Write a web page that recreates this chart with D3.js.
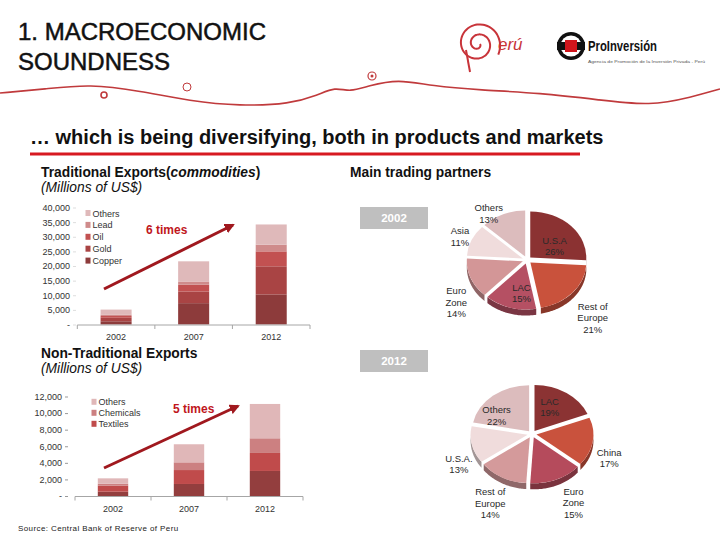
<!DOCTYPE html>
<html><head><meta charset="utf-8">
<script src="https://cdn.jsdelivr.net/npm/d3@7"></script>
<style>body{margin:0;background:#fff} svg{display:block;font-family:Arial,"Liberation Sans",sans-serif}</style>
</head><body><svg id="c" width="720" height="540"></svg>
<script>
// ---------- DATA ----------
const years = ["2002", "2007", "2012"];

const tradNames = ["Copper", "Gold", "Oil", "Lead", "Others"];
const tradCopper = [1100, 7300, 10300];
const tradGold   = [1200, 4000, 9600];
const tradOil    = [600, 2300, 5100];
const tradLead   = [500, 1100, 2300];
const tradOthers = [1700, 6900, 6900];
const tradTicks  = [0, 5000, 10000, 15000, 20000, 25000, 30000, 35000, 40000];

const ntNames     = ["Agro", "Textiles", "Chemicals", "Others"];
const ntAgro      = [520, 1450, 3020];
const ntTextiles  = [720, 1680, 2170];
const ntChemicals = [240, 930, 1770];
const ntOthers    = [650, 2180, 4140];
const ntTicks     = [0, 2000, 4000, 6000, 8000, 10000, 12000];
const ntLegend    = ["Others", "Chemicals", "Textiles"];

const partners2002 = ["U.S.A", "Rest of Europe", "LAC", "Euro Zone", "Asia", "Others"];
const shares2002   = [26, 21, 15, 14, 11, 13];
const partners2012 = ["LAC", "China", "Euro Zone", "Rest of Europe", "U.S.A.", "Others"];
const shares2012   = [19, 17, 15, 14, 13, 22];

// ---------- STYLE ----------
const tradColors = ["#8d3b3b", "#a94444", "#c25151", "#cf8b8b", "#dfb9ba"];
const ntColors   = ["#933e3e", "#c04b4b", "#cc8081", "#e0b7b8"];
const pieColors2002 = ["#8b3232", "#c9523c", "#b55063", "#d39697", "#f0dcdc", "#dcbcbd"];
const pieColors2012 = ["#8b3333", "#c9523d", "#b54b5c", "#d49a9b", "#f0dcdc", "#dcbcbd"];
// label placement: [angle (deg, clockwise from top), radius factor]
const lab2002 = [[58, 0.58], [137, 1.72], [188, 0.72], [234, 1.56], [293, 1.3], [326, 1.22]];
const lab2012 = [[28, 0.66], [111, 1.45], [154, 1.66], [206, 1.67], [243, 1.44], [303, 0.74]];

const svg = d3.select("#c");
svg.append("rect").attr("width", 720).attr("height", 540).attr("fill", "#fff");

// ---------- HEADER ----------
svg.append("text").attr("x", 18).attr("y", 40).attr("font-size", 24).attr("fill", "#111")
  .attr("stroke", "#111").attr("stroke-width", 0.5).text("1. MACROECONOMIC");
svg.append("text").attr("x", 18).attr("y", 70).attr("font-size", 24).attr("fill", "#111")
  .attr("stroke", "#111").attr("stroke-width", 0.5).text("SOUNDNESS");

const wavePts = [[0,93],[45,89],[90,84],[140,91],[190,101],[240,106],[290,104],[318,95],[335,87],[350,92],[368,86],[398,79],[432,86],[480,90],[540,93],[600,100],[650,106],[692,97],[720,89]];
svg.append("path").attr("d", d3.line().curve(d3.curveBasis)(wavePts))
  .attr("fill", "none").attr("stroke", "#c03a3c").attr("stroke-width", 1.6);
svg.append("circle").attr("cx", 104).attr("cy", 95).attr("r", 3).attr("fill", "none").attr("stroke", "#c03a3c").attr("stroke-width", 1.6);
svg.append("circle").attr("cx", 187).attr("cy", 87).attr("r", 4).attr("fill", "none").attr("stroke", "#c03a3c").attr("stroke-width", 1);
svg.append("circle").attr("cx", 372).attr("cy", 76).attr("r", 4).attr("fill", "none").attr("stroke", "#c03a3c").attr("stroke-width", 1.2);
svg.append("circle").attr("cx", 372).attr("cy", 76).attr("r", 1.5).attr("fill", "#c03a3c");

// Peru logo (decorative)
const spiral = [];
for (let t = 0; t <= 4.2 * Math.PI; t += 0.15) { const r = 2 + t * 1.6; spiral.push([478 + r * Math.cos(t), 44 + r * Math.sin(t)]); }
svg.append("path").attr("d", d3.line().curve(d3.curveBasis)(spiral)).attr("fill", "none").attr("stroke", "#c8343a").attr("stroke-width", 2);
svg.append("path").attr("d", "M466,50 L470,72").attr("stroke", "#c8343a").attr("stroke-width", 2);
svg.append("text").attr("x", 498).attr("y", 50).attr("font-size", 17).attr("font-style", "italic").attr("fill", "#c8343a").text("erú");
// ProInversion logo
svg.append("circle").attr("cx", 571).attr("cy", 46).attr("r", 14).attr("fill", "#111");
svg.append("circle").attr("cx", 571).attr("cy", 46).attr("r", 10.5).attr("fill", "#fff");
svg.append("rect").attr("x", 557).attr("y", 42).attr("width", 28).attr("height", 8).attr("fill", "#111");
svg.append("rect").attr("x", 565).attr("y", 40).attr("width", 12).attr("height", 12).attr("fill", "#d0151c");
svg.append("text").attr("x", 588).attr("y", 51).attr("font-size", 15).attr("font-weight", "bold")
  .attr("textLength", 69).attr("lengthAdjust", "spacingAndGlyphs").attr("fill", "#111").text("ProInversión");
svg.append("text").attr("x", 588).attr("y", 63).attr("font-size", 4).attr("fill", "#555")
  .attr("textLength", 117).attr("lengthAdjust", "spacingAndGlyphs").text("Agencia de Promoción de la Inversión Privada - Perú");

// Subtitle
svg.append("text").attr("x", 30).attr("y", 144).attr("font-size", 20).attr("font-weight", "bold").attr("fill", "#111")
  .text("… which is being diversifying, both in products and markets");
svg.append("line").attr("x1", 30).attr("x2", 580).attr("y1", 154).attr("y2", 154).attr("stroke", "#d71a21").attr("stroke-width", 3);

// Section titles
const t1 = svg.append("text").attr("x", 41).attr("y", 177).attr("font-size", 13.8).attr("font-weight", "bold").attr("fill", "#111");
t1.append("tspan").text("Traditional Exports(");
t1.append("tspan").attr("font-style", "italic").text("commodities");
t1.append("tspan").text(")");
svg.append("text").attr("x", 41).attr("y", 192).attr("font-size", 13.8).attr("font-style", "italic").attr("fill", "#111").text("(Millions of US$)");
svg.append("text").attr("x", 41).attr("y", 358).attr("font-size", 13.8).attr("font-weight", "bold").attr("fill", "#111").text("Non-Traditional Exports");
svg.append("text").attr("x", 41).attr("y", 373).attr("font-size", 13.8).attr("font-style", "italic").attr("fill", "#111").text("(Millions of US$)");
svg.append("text").attr("x", 350).attr("y", 177).attr("font-size", 13.8).attr("font-weight", "bold").attr("fill", "#111").text("Main trading partners");

svg.append("text").attr("x", 18).attr("y", 531).attr("font-size", 8).attr("fill", "#222").attr("letter-spacing", 0.4)
  .text("Source: Central Bank of Reserve of Peru");

// arrow marker
const defs = svg.append("defs");
defs.append("marker").attr("id", "ah").attr("viewBox", "0 0 10 10").attr("refX", 8).attr("refY", 5)
  .attr("markerWidth", 3.4).attr("markerHeight", 3.4).attr("orient", "auto")
  .append("path").attr("d", "M0,0 L10,5 L0,10 z").attr("fill", "#a0181e");

// ---------- BAR CHART ----------
function barChart(o) {
  const g = svg.append("g");
  const x = d3.scaleBand().domain(years).range(o.xr).paddingInner(0.6).paddingOuter(0.3);
  const y = d3.scaleLinear().domain([0, o.max]).range(o.yr);
  const rows = years.map((yr, i) => { const r = { year: yr }; o.names.forEach((n, k) => r[n] = o.series[k][i]); return r; });
  const stacked = d3.stack().keys(o.names)(rows);
  g.selectAll("g.s").data(stacked).join("g").attr("fill", (d, i) => o.colors[i])
    .selectAll("rect").data(d => d).join("rect")
    .attr("x", d => x(d.data.year)).attr("width", x.bandwidth())
    .attr("y", d => y(d[1])).attr("height", d => y(d[0]) - y(d[1]));
  const ya = g.append("g").attr("transform", `translate(${o.yAxisX},0)`)
    .call(d3.axisLeft(y).tickValues(o.ticks).tickSize(3).tickPadding(3).tickFormat(d => d === 0 ? "-" : d3.format(",")(d)));
  ya.select(".domain").remove();
  ya.selectAll(".tick line").attr("stroke", o.tickColor);
  ya.selectAll("text").attr("font-size", 9).attr("fill", "#333").attr("font-family", "Arial,'Liberation Sans',sans-serif");
  const y0 = y(0) + 0.5;
  g.append("line").attr("x1", o.xr[0]).attr("x2", o.xr[1]).attr("y1", y0).attr("y2", y0).attr("stroke", "#a6a6a6");
  const bounds = [];
  years.forEach((yr, i) => { const c = x(yr) + x.bandwidth() / 2; if (i === 0) bounds.push(c - x.step() / 2); bounds.push(c + x.step() / 2); });
  g.selectAll("line.xt").data(bounds).join("line").attr("x1", d => d).attr("x2", d => d).attr("y1", y0).attr("y2", y0 + 4).attr("stroke", "#a6a6a6");
  g.selectAll("text.xl").data(years).join("text").attr("x", d => x(d) + x.bandwidth() / 2).attr("y", y0 + 15)
    .attr("text-anchor", "middle").attr("font-size", 9).attr("fill", "#333").text(d => d);
  o.legend.forEach((n, i) => {
    const ci = o.names.indexOf(n);
    g.append("rect").attr("x", o.legX).attr("y", o.legY + i * o.legStep - 3.5).attr("width", 5).attr("height", 6).attr("fill", o.colors[ci]);
    g.append("text").attr("x", o.legX + 7).attr("y", o.legY + i * o.legStep + 3).attr("font-size", 9).attr("fill", "#333").text(n);
  });
  g.append("line").attr("x1", o.arrow[0]).attr("y1", o.arrow[1]).attr("x2", o.arrow[2]).attr("y2", o.arrow[3])
    .attr("stroke", "#a0181e").attr("stroke-width", 3).attr("marker-end", "url(#ah)");
  g.append("text").attr("x", o.lab[0]).attr("y", o.lab[1]).attr("font-size", 12).attr("font-weight", "bold").attr("fill", "#c0161c").text(o.lab[2]);
}

barChart({
  names: tradNames, series: [tradCopper, tradGold, tradOil, tradLead, tradOthers], colors: tradColors,
  xr: [77.3, 310], yr: [324.5, 207.5], max: 40000, ticks: tradTicks, yAxisX: 76, tickColor: "#ddd",
  legend: ["Others", "Lead", "Oil", "Gold", "Copper"], legX: 85.5, legY: 213.5, legStep: 11.9,
  arrow: [104, 289, 233, 225], lab: [146, 234, "6 times"]
});
barChart({
  names: ntNames, series: [ntAgro, ntTextiles, ntChemicals, ntOthers], colors: ntColors,
  xr: [75, 303], yr: [496, 396.5], max: 12000, ticks: ntTicks, yAxisX: 68, tickColor: "#999",
  legend: ntLegend, legX: 91.5, legY: 402.3, legStep: 11,
  arrow: [104, 468, 238, 406], lab: [173, 413, "5 times"]
});

// ---------- PIES ----------
function pieChart(o) {
  const g = svg.append("g");
  g.append("rect").attr("x", 360).attr("y", o.boxY).attr("width", 68).attr("height", 22).attr("fill", "#bfbfbf");
  g.append("text").attr("x", 394).attr("y", o.boxY + 15).attr("text-anchor", "middle").attr("font-size", 11.5)
    .attr("font-weight", "bold").attr("fill", "#fff").text(o.year);
  const arcs = d3.pie().sort(null).value(d => d)(o.values);
  const rx = o.rx, ry = o.ry, k = ry / rx, depth = 6, ex = 4.5;
  const arc = d3.arc().innerRadius(0).outerRadius(rx);
  const off = a => { const m = (a.startAngle + a.endAngle) / 2; return [ex * Math.sin(m), -ex * Math.cos(m) * k]; };
  arcs.forEach((a, i) => {
    const v0 = Math.max(a.startAngle, Math.PI / 2), v1 = Math.min(a.endAngle, 3 * Math.PI / 2);
    if (v1 <= v0) return;
    const [ox, oy] = off(a);
    const top = d3.range(v0, v1, 0.02).concat([v1]).map(t => [o.cx + ox + rx * Math.sin(t), o.cy + oy - ry * Math.cos(t)]);
    const pts = top.concat(top.slice().reverse().map(p => [p[0], p[1] + depth]));
    g.append("path").attr("d", "M" + pts.map(p => p.join(",")).join("L") + "Z")
      .attr("fill", d3.color(o.colors[i]).darker(1.1));
  });
  arcs.forEach((a, i) => {
    const [ox, oy] = off(a);
    g.append("g").attr("transform", `translate(${o.cx + ox},${o.cy + oy}) scale(1,${k})`)
      .append("path").attr("d", arc(a)).attr("fill", o.colors[i]);
  });
  o.names.forEach((n, i) => {
    const [ang, rf] = o.lab[i];
    const t = ang * Math.PI / 180;
    const lx = o.cx + rf * rx * Math.sin(t), ly = o.cy - rf * ry * Math.cos(t);
    const lines = n.split(/ (?=Zone|Europe)/).concat([o.values[i] + "%"]);
    const txt = g.append("text").attr("text-anchor", "middle").attr("font-size", 9.5).attr("fill", "#2a2a2a");
    lines.forEach((l, j) => txt.append("tspan").attr("x", lx).attr("y", ly + (j - (lines.length - 1) / 2) * 11.5 + 3.5).text(l));
  });
}
pieChart({ year: "2002", boxY: 207, cx: 527, cy: 260, rx: 56, ry: 46, names: partners2002, values: shares2002, colors: pieColors2002, lab: lab2002 });
pieChart({ year: "2012", boxY: 350, cx: 532, cy: 434, rx: 57, ry: 46, names: partners2012, values: shares2012, colors: pieColors2012, lab: lab2012 });
</script></body></html>
